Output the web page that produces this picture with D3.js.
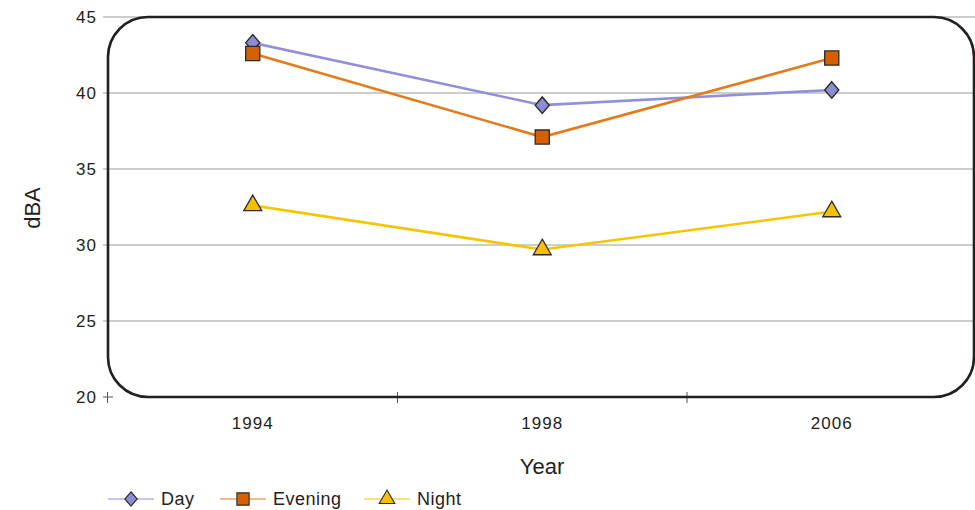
<!DOCTYPE html>
<html><head><meta charset="utf-8">
<script src="https://cdn.jsdelivr.net/npm/d3@7"></script>
<style>body{margin:0;background:#fff}svg{display:block;font-family:"Liberation Sans",Arial,sans-serif}</style>
</head><body>
<script>
const years = ["1994", "1998", "2006"];
const dayValues = [43.3, 39.2, 40.2];
const eveningValues = [42.6, 37.1, 42.3];
const nightValues = [32.6, 29.7, 32.2];
const yTicks = [20, 25, 30, 35, 40, 45];
const seriesNames = ["Day", "Evening", "Night"];

const W = 975, H = 510;
const mLeft = 108, mRight = 976.5, mTop = 17, mBottom = 397;
const svg = d3.select("body").append("svg").attr("width", W).attr("height", H);

const x = d3.scaleBand().domain(years).range([mLeft, mRight]).padding(0);
const y = d3.scaleLinear().domain([20, 45]).range([mBottom, mTop]);

// gridlines
svg.append("g").selectAll("line").data(yTicks.filter(d => d > 20)).join("line")
  .attr("x1", mLeft - 5).attr("x2", W).attr("y1", d => y(d)).attr("y2", d => y(d))
  .attr("stroke", "#9a9a9a").attr("stroke-width", 1);

// y tick labels
svg.append("g").selectAll("text").data(yTicks).join("text")
  .attr("x", mLeft - 11).attr("y", d => y(d)).attr("dy", "0.36em")
  .attr("text-anchor", "end").attr("font-size", 17).attr("letter-spacing", 1).attr("fill", "#231f20").text(d => d);

// small tick marks (crosses) on axis
const tickPos = [mLeft - 0.5, ...years.slice(1).map(d => x(d))];
svg.append("g").selectAll("line").data(tickPos).join("line")
  .attr("x1", d => d).attr("x2", d => d).attr("y1", mBottom - 5).attr("y2", mBottom + 6)
  .attr("stroke", "#555").attr("stroke-width", 1);
svg.append("line").attr("x1", mLeft - 5).attr("x2", mLeft + 5).attr("y1", mBottom).attr("y2", mBottom)
  .attr("stroke", "#555").attr("stroke-width", 1);

// rounded plot frame
svg.append("rect").attr("x", mLeft).attr("y", mTop).attr("width", 866).attr("height", mBottom - mTop)
  .attr("rx", 40).attr("ry", 40).attr("fill", "none").attr("stroke", "#231f20").attr("stroke-width", 2.6);

// x labels
svg.append("g").selectAll("text").data(years).join("text")
  .attr("x", d => x(d) + x.bandwidth() / 2).attr("y", 429)
  .attr("text-anchor", "middle").attr("font-size", 17).attr("letter-spacing", 1).attr("fill", "#231f20").text(d => d);

svg.append("text").attr("x", 542).attr("y", 474).attr("text-anchor", "middle")
  .attr("font-size", 22).attr("fill", "#231f20").text("Year");
svg.append("text").attr("transform", "translate(40,208) rotate(-90)").attr("text-anchor", "middle")
  .attr("font-size", 22).attr("fill", "#231f20").text("dBA");

const series = [
  {name: "Day", values: dayValues, line: "#8f8fdc", fill: "#8c8cd2", sym: d3.symbolDiamond, size: 110},
  {name: "Evening", values: eveningValues, line: "#e37b1c", fill: "#d65f00", sym: d3.symbolSquare, size: 200},
  {name: "Night", values: nightValues, line: "#f7c500", fill: "#f5c000", sym: d3.symbolTriangle, size: 140}
];
const cx = d => x(d) + x.bandwidth() / 2;
const lineGen = d3.line().x(d => cx(d.year)).y(d => y(d.v));

series.forEach(s => {
  const pts = years.map((yr, i) => ({year: yr, v: s.values[i]}));
  svg.append("path").datum(pts).attr("d", lineGen).attr("fill", "none")
    .attr("stroke", s.line).attr("stroke-width", 2.6);
});
series.forEach(s => {
  const pts = years.map((yr, i) => ({year: yr, v: s.values[i]}));
  svg.append("g").selectAll("path").data(pts).join("path")
    .attr("transform", d => `translate(${cx(d.year)},${y(d.v)})` + (s.sym === d3.symbolDiamond ? " scale(1.25,0.85)" : ""))
    .attr("d", d3.symbol().type(s.sym).size(s.size))
    .attr("fill", s.fill).attr("stroke", "#2b2b2b").attr("stroke-width", 1.3);
});

// legend
const legX = [108, 220, 364];
const lg = svg.append("g").selectAll("g").data(series).join("g")
  .attr("transform", (d, i) => `translate(${legX[i]},499)`);
lg.append("line").attr("x1", 0).attr("x2", 46).attr("stroke", d => d.line).attr("stroke-width", 1.2);
lg.append("path").attr("transform", d => "translate(23,0)" + (d.sym === d3.symbolDiamond ? " scale(1.25,0.85)" : ""))
  .attr("d", d => d3.symbol().type(d.sym).size(d.size * 0.75)())
  .attr("fill", d => d.fill).attr("stroke", "#2b2b2b").attr("stroke-width", 1.1);
lg.append("text").attr("x", 53).attr("dy", "0.36em").attr("font-size", 18).attr("letter-spacing", 0.5).attr("fill", "#231f20")
  .text(d => d.name);
</script>
</body></html>
